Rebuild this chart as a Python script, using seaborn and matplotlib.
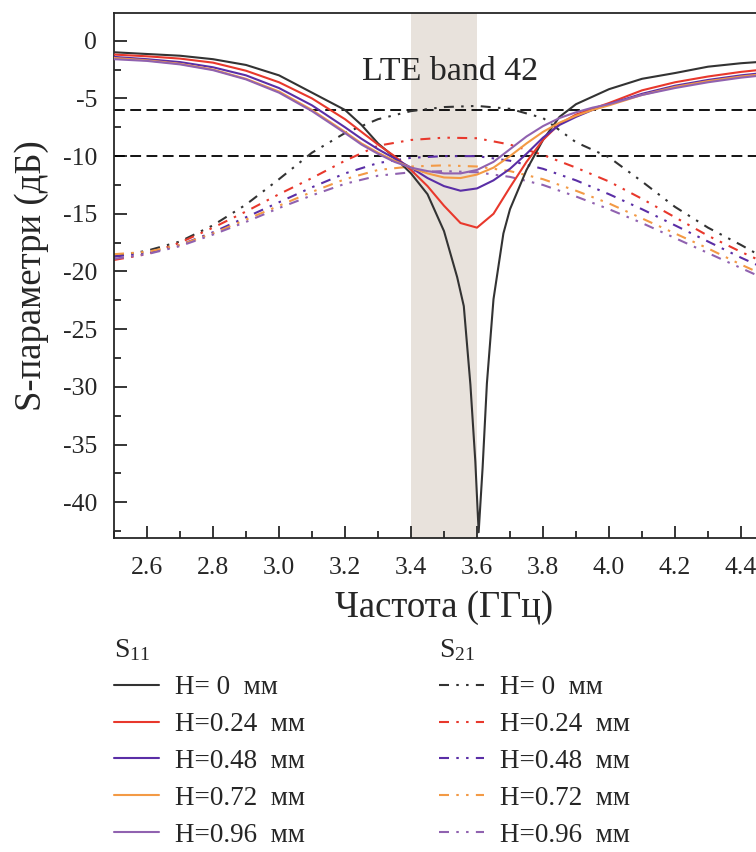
import matplotlib
matplotlib.use("Agg")
import matplotlib.pyplot as plt
from matplotlib.lines import Line2D
from matplotlib.ticker import MultipleLocator
import seaborn as sns
import pandas as pd

# frequency grids (GHz)
freq_s11 = [2.5, 2.6, 2.7, 2.8, 2.9, 3.0, 3.1, 3.2, 3.25, 3.3, 3.35, 3.4, 3.45, 3.5,
            3.55, 3.6, 3.65, 3.7, 3.75, 3.8, 3.85, 3.9, 3.95, 4.0, 4.1, 4.2, 4.3, 4.4, 4.5]
freq_s11_h0 = [2.5, 2.6, 2.7, 2.8, 2.9, 3.0, 3.1, 3.2, 3.25, 3.3, 3.35, 3.4, 3.45, 3.5,
               3.54, 3.56, 3.58, 3.595, 3.605, 3.617, 3.63, 3.65, 3.68, 3.7, 3.75, 3.8,
               3.85, 3.9, 4.0, 4.1, 4.2, 4.3, 4.4, 4.5]
freq_s21 = [2.5, 2.6, 2.7, 2.8, 2.9, 3.0, 3.1, 3.2, 3.3, 3.4, 3.5, 3.6, 3.7, 3.8,
            3.9, 4.0, 4.1, 4.2, 4.3, 4.4, 4.5]

# S11 (dB)
s11_h0 = [-1.0, -1.15, -1.3, -1.6, -2.1, -3.0, -4.5, -6.0, -7.3, -8.9, -10.1, -11.5, -13.3, -16.5,
          -20.5, -23.0, -29.8, -36.5, -42.6, -37.0, -29.7, -22.4, -16.7, -14.6, -11.2, -8.6,
          -6.6, -5.5, -4.2, -3.3, -2.8, -2.25, -1.95, -1.75]
s11_h024 = [-1.2, -1.35, -1.55, -1.9, -2.6, -3.6, -5.0, -6.8, -7.9, -9.0, -10.0, -11.2, -12.6, -14.3,
            -15.8, -16.2, -15.0, -12.7, -10.5, -8.6, -7.2, -6.4, -5.9, -5.4, -4.3, -3.6, -3.1, -2.7, -2.4]
s11_h048 = [-1.4, -1.6, -1.85, -2.3, -3.0, -4.1, -5.6, -7.5, -8.5, -9.4, -10.2, -11.0, -11.9, -12.6,
            -13.0, -12.8, -12.1, -11.1, -9.8, -8.4, -7.3, -6.6, -6.0, -5.5, -4.6, -3.9, -3.4, -3.0, -2.7]
s11_h072 = [-1.5, -1.7, -2.0, -2.5, -3.3, -4.4, -6.0, -7.9, -8.9, -9.7, -10.4, -11.0, -11.5, -11.85,
            -11.9, -11.6, -11.0, -10.0, -8.9, -7.9, -7.1, -6.5, -6.0, -5.6, -4.7, -4.0, -3.5, -3.1, -2.8]
s11_h096 = [-1.6, -1.75, -2.05, -2.55, -3.35, -4.5, -6.1, -8.0, -9.0, -9.8, -10.5, -11.0, -11.3, -11.5,
            -11.5, -11.2, -10.5, -9.4, -8.3, -7.4, -6.7, -6.2, -5.8, -5.5, -4.7, -4.1, -3.6, -3.2, -2.9]

# S21 (dB)
s21_h0 = [-18.7, -18.2, -17.4, -16.0, -14.2, -12.0, -9.7, -8.0, -6.8, -6.1, -5.75, -5.65, -5.9,
          -6.7, -8.8, -10.1, -12.2, -14.4, -16.2, -17.7, -19.3]
s21_h024 = [-19.0, -18.5, -17.5, -16.2, -14.8, -13.3, -11.9, -10.4, -9.1, -8.6, -8.4, -8.45, -9.0,
            -9.9, -11.0, -12.2, -13.7, -15.3, -16.9, -18.3, -19.6]
s21_h048 = [-18.7, -18.4, -17.7, -16.6, -15.3, -14.0, -12.7, -11.5, -10.6, -10.15, -10.0, -10.0, -10.4,
            -11.1, -12.1, -13.3, -14.6, -16.0, -17.4, -18.8, -20.1]
s21_h072 = [-18.5, -18.3, -17.7, -16.7, -15.5, -14.3, -13.1, -12.0, -11.2, -10.9, -10.8, -10.9, -11.3,
            -12.0, -13.0, -14.1, -15.4, -16.7, -18.0, -19.4, -20.7]
s21_h096 = [-18.9, -18.5, -17.8, -16.8, -15.7, -14.5, -13.4, -12.4, -11.7, -11.4, -11.3, -11.4, -11.8,
            -12.5, -13.5, -14.6, -15.8, -17.1, -18.4, -19.7, -21.0]

labels = ["H= 0  мм", "H=0.24  мм", "H=0.48  мм", "H=0.72  мм", "H=0.96  мм"]
colors = ["#333333", "#e8382c", "#5a2ea6", "#f39a45", "#9062b0"]
band = (3.4, 3.6)
ref_levels = [-6, -10]

sns.set_style("ticks")
plt.rcParams['font.family'] = ['Liberation Serif', 'DejaVu Serif']
plt.rcParams['mathtext.fontset'] = 'custom'
plt.rcParams['mathtext.rm'] = 'Liberation Serif'
plt.rcParams['mathtext.it'] = 'Liberation Serif'
plt.rcParams['axes.unicode_minus'] = False

fig = plt.figure(figsize=(7.56, 8.52), dpi=100)
ax = fig.add_axes([0.1508, 0.3685, 0.873, 0.6162])

ax.axvspan(band[0], band[1], color="#e8e2dc", lw=0, zorder=0)
for lv in ref_levels:
    ax.axhline(lv, color="black", ls=(0, (6, 3)), lw=1.3, zorder=1)

dashdotdot = (0, (4.8, 3.5, 1.2, 3.5, 1.2, 3.5))
s11_sets = [(freq_s11_h0, s11_h0), (freq_s11, s11_h024), (freq_s11, s11_h048),
            (freq_s11, s11_h072), (freq_s11, s11_h096)]
s21_sets = [s21_h0, s21_h024, s21_h048, s21_h072, s21_h096]

for (f, v), c in zip(s11_sets, colors):
    df = pd.DataFrame({"f": f, "v": v})
    sns.lineplot(data=df, x="f", y="v", ax=ax, color=c, lw=1.5, zorder=3)
for v, c in zip(s21_sets, colors):
    df = pd.DataFrame({"f": freq_s21, "v": v})
    sns.lineplot(data=df, x="f", y="v", ax=ax, color=c, lw=1.5, linestyle=dashdotdot, zorder=2)

ax.text(3.518, -2.7, "LTE band 42", ha="center", va="center", fontsize=24.5)

ax.set_xlim(2.5, 4.5)
ax.set_ylim(-43.1, 2.4)
ax.xaxis.set_major_locator(MultipleLocator(0.2))
ax.xaxis.set_minor_locator(MultipleLocator(0.1))
ax.yaxis.set_major_locator(MultipleLocator(5))
ax.yaxis.set_minor_locator(MultipleLocator(2.5))
ax.xaxis.set_major_formatter(plt.FormatStrFormatter('%.1f'))
ax.tick_params(which="major", direction="in", length=9, width=1.3, labelsize=18.5)
ax.tick_params(axis="x", which="major", pad=14)
ax.tick_params(axis="y", which="major", pad=12)
ax.tick_params(which="minor", direction="in", length=5, width=1.3)
for sp in ax.spines.values():
    sp.set_linewidth(1.3)
ax.spines["right"].set_visible(False)

ax.set_xlabel("Частота (ГГц)", fontsize=26.5, labelpad=8)
ax.set_ylabel("S-параметри (дБ)", fontsize=26.5, labelpad=10)

h11 = [Line2D([], [], color=c, lw=1.5) for c in colors]
h21 = [Line2D([], [], color=c, lw=1.5, linestyle=dashdotdot) for c in colors]
leg_kw = dict(loc="upper left", frameon=False, fontsize=19.5, title_fontsize=20,
              alignment="left", borderpad=0, borderaxespad=0, handlelength=1.65,
              handletextpad=0.6, labelspacing=0.44)
fig.legend(handles=h11, labels=labels, title="S$_{11}$", bbox_to_anchor=(0.151, 0.252), **leg_kw)
fig.legend(handles=h21, labels=labels, title="S$_{21}$", bbox_to_anchor=(0.581, 0.252), **leg_kw)

fig.savefig("out.png", dpi=100)
